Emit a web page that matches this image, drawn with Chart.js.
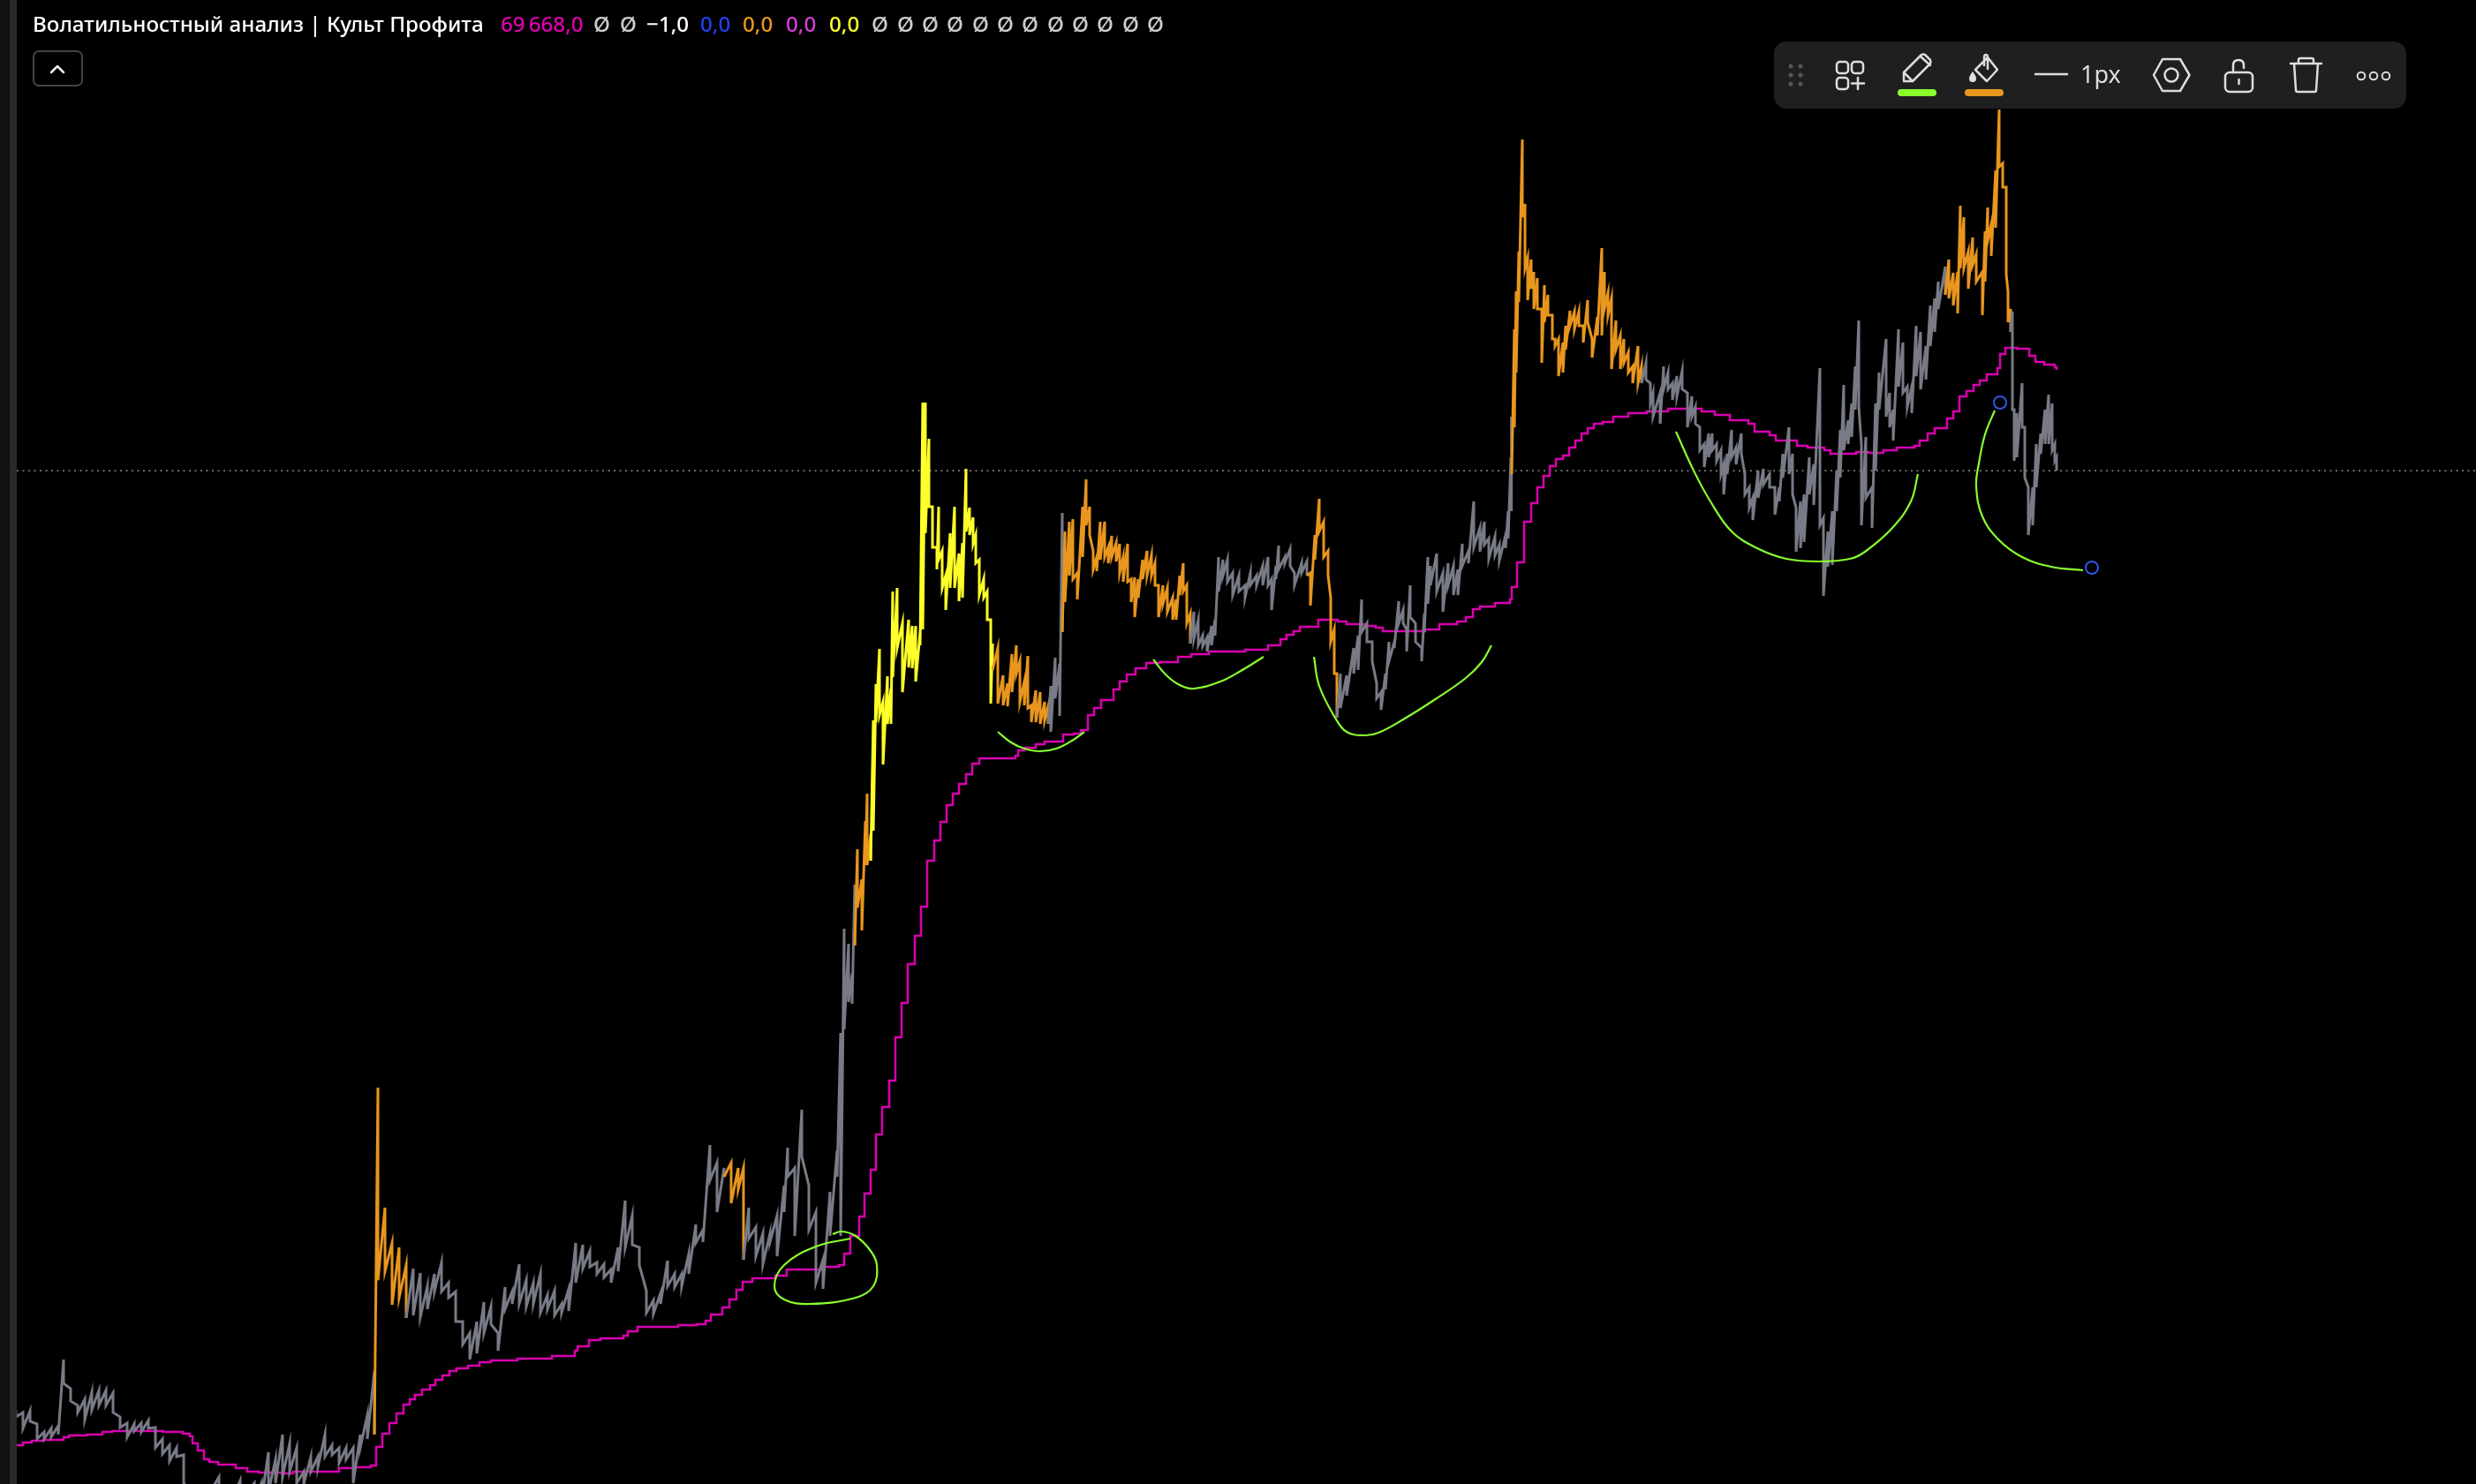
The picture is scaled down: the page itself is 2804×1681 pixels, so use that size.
<!DOCTYPE html>
<html lang="ru">
<head>
<meta charset="utf-8">
<title>Волатильностный анализ | Культ Профита</title>
<script src="https://cdn.jsdelivr.net/npm/chart.js@4"></script>
<style>
  html, body { margin: 0; padding: 0; background: #000; overflow: hidden; }
  #page { position: relative; width: 2804px; height: 1681px; background: #000; overflow: hidden; }
  #chart { position: absolute; left: 0; top: 0; }
  .strip { position: absolute; top: 0; bottom: 0; }
  #legend span {
    position: absolute; top: 11px; white-space: nowrap; color: #fff;
    font: 500 24.2px/32px "Noto Sans", sans-serif;
  }
  #collapse {
    position: absolute; left: 37px; top: 57px; width: 57px; height: 41px; box-sizing: border-box;
    border: 2px solid #444; border-radius: 7px;
  }
  #tools { position: absolute; left: 0; top: 0; }
</style>
</head>
<body>
<div id="page">
  <canvas id="chart" width="2804" height="1681"></canvas>
  <div class="strip" style="left:0;width:11px;background:#111"></div>
  <div class="strip" style="left:11px;width:8px;background:#292929"></div>
  <div id="legend"></div>
  <div id="collapse"></div>
  <svg id="tools" width="2804" height="1681" fill="none" stroke="#ddd" stroke-width="2.5" stroke-linecap="round" stroke-linejoin="round">
    <path d="M58 82l7-7 7 7" stroke="#eee"/>
    <rect x="2009" y="47" width="716" height="76" rx="14" fill="#1f1f1f" stroke="none"/>
    <g fill="#555" stroke="none">
      <circle cx="2028" cy="75" r="2.5"/><circle cx="2039" cy="75" r="2.5"/>
      <circle cx="2028" cy="85" r="2.5"/><circle cx="2039" cy="85" r="2.5"/>
      <circle cx="2028" cy="95" r="2.5"/><circle cx="2039" cy="95" r="2.5"/>
    </g>
    <!-- add widgets -->
    <rect x="2080" y="70" width="13" height="13" rx="3.5"/>
    <rect x="2097" y="70" width="13" height="13" rx="3.5"/>
    <rect x="2080" y="88" width="13" height="13" rx="3.5"/>
    <path d="M2097 94.5h14M2104 88v13"/>
    <!-- pencil -->
    <path d="M2156 82l20-20q2-1 4 0l6 6q1 2 0 4l-20 20h-10zM2156 82l10 10M2175 64l11 10"/>
    <rect x="2149" y="101" width="44" height="8" rx="4" fill="#8aff2e" stroke="none"/>
    <!-- bucket -->
    <path d="M2240 76l11-11 11 14-12 13-13-13zM2247 74v-9q0-3 2-3t2 3v13"/>
    <path d="M2234 81q-4 5-4 8a4 4 0 0 0 8 0q0-3-4-8z" fill="#ddd" stroke="none"/>
    <rect x="2225" y="101" width="44" height="8" rx="4" fill="#e8961e" stroke="none"/>
    <!-- line width -->
    <path d="M2305 84h36"/>
    <text x="2356" y="94" fill="#ddd" stroke="none" font-family="Noto Sans" font-size="27">1px</text>
    <!-- hexagon -->
    <path d="M2449 67h20l10.500 18-10.500 18h-20l-10-18z"/>
    <circle cx="2459" cy="85" r="7.500"/>
    <!-- lock -->
    <rect x="2520" y="82" width="31" height="22" rx="5"/>
    <path d="M2529 82v-8q0-6 6-6t6 6v3M2535.500 90v5"/>
    <!-- trash -->
    <path d="M2594 72h35M2603 72v-4q0-2 2-2h13q2 0 2 2v4M2598 72l2 30q0 2 2 2h19q2 0 2-2l2-30"/>
    <circle cx="2674" cy="86" r="4.300" stroke-width="2"/>
    <circle cx="2688" cy="86" r="4.300" stroke-width="2"/>
    <circle cx="2702" cy="86" r="4.300" stroke-width="2"/>
  </svg>
</div>
<script>
// Indicator title and the values printed after it
const indicatorName = 'Волатильностный анализ | Культ Профита';
const legendValues = ['69\u2009668,0', 'Ø', 'Ø', '−1,0', '0,0', '0,0', '0,0', '0,0',
  'Ø', 'Ø', 'Ø', 'Ø', 'Ø', 'Ø', 'Ø', 'Ø', 'Ø', 'Ø', 'Ø', 'Ø'];
const legendColours = ['#e000b0', '#ccc', '#ccc', '#fff', '#1f3ff0', '#e8961e', '#d63fd6', '#ffff29',
  '#ccc', '#ccc', '#ccc', '#ccc', '#ccc', '#ccc', '#ccc', '#ccc', '#ccc', '#ccc', '#ccc', '#ccc'];
const legendLefts = [567, 672, 702, 732, 793, 841, 890, 939,
  987, 1016, 1044, 1072, 1101, 1129, 1157, 1186, 1214, 1242, 1271, 1299];

const lastPrice = 69668;

// Price columns, each row: bar, high, low
const calm1 = [
  [18,59030,58950],[26,59000,58820],[34,59020,58900],[42,58870,58700],[50,58780,58700],[58,58820,58720],
  [66,58850,58750],[72,59600,59330],[80,59270,59130],[88,59080,59000],[96,59150,58920],[104,59230,59030],
  [112,59250,59080],[120,59250,59080],[128,59220,59000],[136,58950,58830],[144,58880,58720],[152,58870,58790],
  [160,58880,58780],[168,58910,58820],[176,58830,58600],[184,58700,58530],[192,58630,58450],[200,58600,58500],
  [208,58520,58200],[216,58100,58000],[232,58050,58000],[248,58270,58000],[262,58050,58000],[272,58230,58000],
  [288,58200,58000],[296,58200,58000],[304,58550,58100],[312,58470,58200],[320,58750,58270],[328,58650,58330],
  [336,58600,58200],[344,58330,58190],[352,58500,58330],[360,58500,58380],[368,58750,58500],[376,58630,58520],
  [384,58600,58430],[392,58600,58470],[400,58600,58200],[408,58750,58600],[416,58970,58700],[424,59470,58750]
];
const active1 = [
  [428,62680,60500],[436,61320,60600],[444,60920,60220],[452,60870,60300],[460,60670,60070]
];
const calm2 = [
  [468,60630,60100],[476,60580,60080],[484,60430,60170],[492,60570,60370],[500,60700,60370],[508,60470,60300],
  [516,60370,60030],[524,60030,59770],[532,59900,59600],[540,60030,59670],[548,60250,59900],[556,60200,60000],
  [564,59900,59700],[572,60420,60170],[580,60370,60230],[588,60680,60230],[596,60500,60200],[604,60470,60230],
  [612,60570,60130],[620,60330,60170],[628,60380,60100],[636,60230,60130],[644,60400,60150],[652,60920,60470],
  [660,60900,60630],[668,60830,60650],[676,60700,60570],[684,60680,60530],[692,60620,60470],[700,60870,60600],
  [708,61400,60870],[716,61230,60900],[724,60870,60670],[732,60380,60130],[740,60270,60120],[748,60350,60230],
  [756,60720,60430],[764,60570,60420],[772,60570,60430],[780,60800,60570],[788,61130,60920],[796,61070,60930],
  [804,62030,61630],[812,61830,61270],[820,61770,61670]
];
const active2 = [
  [828,61830,61370],[836,61770,61530],[842,61770,60730]
];
const calm3 = [
  [848,61320,60970],[856,61100,60770],[864,61030,60680],[872,61030,60930],[880,61230,60770],[888,61570,61270],
  [892,62000,61670],[900,61770,61000],[908,62430,61900],[916,61570,61070],[924,61270,60470],[932,60730,60400],
  [940,61500,61000],[948,61970,61670],[952,63300,61000],[956,64480,63340],[961,64310,63650],[965,63970,63630],
  [968,64980,64290]
];
const active3 = [
  [971,65380,64720],[976,65040,64460],[980,65700,65200],[982,66010,65200],[986,65550,65250]
];
const hot1 = [
  [989,66840,65590],[992,67250,66820],[996,67650,66900],[1000,67050,66340],[1005,67340,66800],[1009,67200,66800],
  [1011,68300,67330],[1016,68340,67660],[1022,67940,67160],[1029,67980,67440],[1033,67910,67430],[1037,67910,67280],
  [1042,67840,67690],[1045,70440,67870],[1048,70440,68960],[1052,70030,69260],[1056,69260,68800],[1061,68800,68550],
  [1063,69260,68660],[1067,68760,68340],[1071,68480,68090],[1076,68960,68340],[1081,69260,68340],[1086,68730,68190],
  [1090,68850,68230],[1094,69690,68980],[1098,69250,68940],[1102,69140,68840],[1105,68940,68620],[1109,68660,68260],
  [1114,68440,68230],[1118,68300,67980],[1122,67980,67030],[1124,67710,67410]
];
const active4 = [
  [1130,67660,67030],[1136,67350,67010],[1141,67260,67000],[1146,67590,67160],[1151,67690,67370],[1155,67510,67050],
  [1160,67280,67010],[1164,67570,66980],[1168,67010,66820],[1173,67180,66820],[1178,67160,66800],[1183,67050,66840],
  [1187,67000,66800]
];
const calm4 = [
  [1190,67230,66710],[1195,67550,67090],[1200,67480,66890],[1203,69190,67840]
];
const active5 = [
  [1206,68980,68180],[1211,69090,68480],[1215,69120,68440],[1220,68510,68210],[1226,69260,68690],[1230,69570,69050],
  [1234,69260,68940],[1238,68760,68550],[1242,68690,68530],[1246,69090,68660],[1251,69090,68690],[1255,68800,68620],
  [1259,68930,68690],[1264,68850,68640],[1268,68840,68510],[1272,68690,68410],[1277,68840,68410],[1281,68440,68180],
  [1285,68460,68010],[1289,68440,68230],[1294,68660,68440],[1299,68760,68480],[1304,68710,68480],[1308,68620,68370],
  [1312,68370,68010],[1317,68370,68160],[1322,68340,68070],[1328,68230,67980],[1332,68210,67980],[1336,68480,68260],
  [1340,68620,68300],[1344,68370,67940],[1348,68050,67710]
];
const calm5 = [
  [1352,68070,67760],[1357,67980,67690],[1362,67800,67680],[1367,67780,67620],[1372,67910,67690],[1376,67980,67800],
  [1380,68690,68300],[1385,68660,68480],[1390,68660,68410],[1396,68510,68260],[1403,68480,68300],[1410,68370,68230],
  [1416,68510,68370],[1423,68480,68370],[1430,68590,68370],[1436,68690,68370],[1440,68440,68090],[1445,68590,68440],
  [1448,68820,68550],[1455,68690,68620],[1461,68780,68590],[1466,68510,68370],[1474,68620,68510],[1480,68640,68480]
];
const active6 = [
  [1484,68510,68140],[1489,68940,68660],[1494,69350,68980],[1499,69090,68690],[1504,68760,68480],[1507,68230,67730],
  [1511,67870,67370],[1514,67370,66870]
];
const calm6 = [
  [1518,67370,66980],[1525,67350,67120],[1533,67660,67370],[1538,67800,67410],[1542,68210,67840],[1548,67940,67730],
  [1554,67730,67510],[1559,67260,67090],[1564,67160,66960],[1569,67370,67190],[1573,67730,67510],[1579,67730,67660],
  [1584,68190,67940],[1589,68090,67940],[1593,67870,67620],[1597,68370,68010],[1603,67940,67730],[1610,67660,67510],
  [1613,68050,67840],[1617,68690,68160],[1620,68590,68370],[1627,68730,68300],[1634,68510,68070],[1640,68620,68370],
  [1646,68590,68260],[1651,68550,68260],[1656,68840,68590],[1663,68760,68620],[1669,69320,68800],[1676,69020,68750],
  [1681,69090,68830],[1686,68900,68670],[1693,68920,68710],[1698,68830,68650],[1705,68940,68790],[1708,69210,68900],
  [1711,69820,69210],[1712,70280,69630]
];
const active7 = [
  [1715,71270,70160],[1717,71700,70780],[1720,72150,71580],[1724,73420,72540],[1727,72690,71960],[1730,72080,71600],
  [1734,72060,71730],[1737,71920,71500],[1741,71850,71500],[1746,71500,70890],[1749,71770,71350],[1753,71660,71430],
  [1758,71430,71160],[1761,71160,71080],[1765,71160,70740],[1770,71120,70780],[1773,71310,71040],[1778,71480,71310],
  [1783,71470,71270],[1788,71470,71310],[1793,71310,71120],[1798,71600,71350],[1803,71160,70950],[1809,71410,71200],
  [1814,72190,71200],[1817,71920,71500],[1821,71680,71430],[1825,71620,70820],[1830,71370,71040],[1835,71200,70820],
  [1839,71160,70890],[1844,71010,70780],[1849,70850,70660],[1855,71080,70660],[1859,70850,70660]
];
const calm7 = [
  [1864,70890,70700],[1869,70660,70430],[1872,70550,70280],[1880,70550,70200],[1884,70850,70590],[1889,70780,70590],
  [1894,70660,70470],[1899,70740,70510],[1905,70800,70590],[1911,70550,70160],[1916,70510,70280],[1920,70390,70200],
  [1925,70160,69900],[1930,69970,69710],[1935,70090,69820],[1939,70090,69900],[1944,69970,69780],[1949,69900,69630],
  [1952,69740,69400],[1956,69860,69630],[1961,70130,69820],[1966,69930,69740],[1972,70090,69860],[1976,69630,69400],
  [1981,69480,69250],[1985,69360,69110],[1991,69670,69360],[1997,69690,69510],[2004,69630,69480],[2010,69480,69170],
  [2015,69480,69320],[2019,69860,69590],[2026,70160,69630],[2030,69860,69400],[2034,69250,68750],[2039,69320,68790],
  [2043,69400,68860],[2049,69820,69400],[2054,69740,69280],[2061,70830,69050],[2065,69130,68250],[2070,68980,68580],
  [2075,69210,68600],[2080,69670,69210],[2084,70130,69590],[2088,70640,69900],[2093,70240,69970],[2097,70430,70050],
  [2101,70850,70360],[2105,71370,70390],[2108,69970,69050],[2113,70050,69360],[2120,69480,69020],[2124,70430,69670],
  [2128,70780,70360],[2136,71160,70280],[2140,70550,70160],[2144,70360,70010],[2150,71270,70620],[2155,71120,70550],
  [2160,70620,70390],[2165,70620,70320],[2170,71310,70740],[2175,71240,70590],[2181,71080,70700],[2186,71540,71080],
  [2191,71620,71240],[2195,71810,71500],[2203,71980,71660]
];
const active8 = [
  [2207,72060,71620],[2212,71910,71540],[2217,71920,71450],[2220,72670,71960],[2224,72540,71960],[2229,72150,71730],
  [2234,72310,72000],[2238,72120,71810],[2245,71920,71430],[2248,72380,71810],[2251,72650,72270],[2255,72460,72100],
  [2260,73070,72420],[2264,73760,73110],[2268,73150,72880],[2272,72880,71890],[2274,71700,71350],[2277,71500,71240]
];
const calm8 = [
  [2279,71470,70360],[2281,70360,69780],[2284,70320,69820],[2290,70660,70160],[2293,70160,69590],[2297,69480,68940],
  [2302,69480,69050],[2306,69970,69480],[2311,70090,69860],[2316,70360,69970],[2320,70530,69970],[2324,70430,69900],
  [2327,69970,69780],[2329,69820,69670]
];

// Stepped basis line: bar where the level changes, and the new level
const basisBars = [
  19,26,36,49,72,78,98,116,127,172,185,207,215,218,224,231,237,247,267,280,293,319,332,358,384,403,420,426,433,441,
  449,457,464,470,478,487,493,501,509,517,530,543,556,586,625,651,654,667,680,706,711,722,768,789,799,805,818,826,834,841,
  852,878,891,930,950,956,963,973,979,986,992,999,1007,1014,1021,1028,1036,1043,1050,1058,1065,1072,1079,1086,1094,1101,1109,1150,1153,1160,
  1173,1183,1204,1216,1224,1232,1239,1247,1261,1268,1276,1286,1298,1313,1334,1349,1369,1410,1436,1450,1457,1465,1472,1493,1515,1525,1545,1558,1566,1614,
  1630,1650,1660,1668,1676,1693,1710,1712,1718,1726,1734,1741,1748,1755,1762,1770,1777,1784,1791,1798,1805,1815,1827,1844,1865,1889,1927,1942,1959,1980,
  1987,2004,2011,2035,2047,2066,2073,2102,2116,2133,2148,2168,2174,2183,2191,2205,2212,2219,2227,2235,2242,2250,2262,2265,2271,2284,2298,2305,2315,2327,2329
];
const basisValues = [
  58630,58660,58680,58690,58720,58740,58750,58780,58790,58790,58780,58760,58730,58650,58570,58470,58440,58410,58370,58330,58320,58310,58330,58330,58370,58380,58400,58610,58760,58880,
  58990,59090,59150,59200,59260,59310,59370,59420,59470,59500,59530,59570,59590,59610,59640,59700,59750,59820,59840,59870,59920,59970,59990,60000,60040,60110,60190,60280,60390,60480,
  60520,60550,60620,60650,60670,60800,61000,61220,61480,61750,62150,62460,62760,63250,63640,64080,64400,64730,65250,65480,65690,65880,66010,66120,66230,66350,66410,66440,66500,66530,
  66570,66600,66680,66690,66730,66900,66980,67070,67190,67280,67360,67430,67490,67500,67560,67590,67620,67640,67690,67760,67810,67850,67900,67980,67960,67930,67910,67890,67850,67870,
  67930,67960,68010,68100,68130,68170,68210,68350,68630,69090,69300,69480,69610,69720,69800,69840,69930,70010,70090,70150,70200,70220,70280,70320,70340,70370,70340,70300,70240,70200,
  70110,70070,70010,69950,69930,69900,69860,69880,69870,69900,69930,69950,70010,70090,70150,70260,70340,70510,70570,70640,70690,70760,70830,70990,71060,71050,70970,70900,70870,70840,70810
];

// Hand drawn marks on the chart, each row: bar, price
const drawnLoop = [[943,61020],[953,61050],[969,61000],[986,60830],[993,60670],[989,60430],[969,60300],[917,60230],[888,60280],[877,60430],[888,60670],[924,60880],[963,60970]];
const drawnArc1 = [[1130,66710],[1145,66590],[1160,66520],[1178,66490],[1196,66520],[1214,66610],[1228,66710]];
const drawnArc2 = [[1306,67530],[1321,67350],[1336,67240],[1352,67200],[1382,67280],[1405,67400],[1431,67560]];
const drawnArc3 = [[1488,67560],[1494,67230],[1512,66870],[1525,66710],[1545,66670],[1561,66700],[1589,66850],[1624,67070],[1660,67320],[1678,67500],[1689,67690]];
const drawnArc4 = [[1898,70110],[1918,69670],[1937,69320],[1961,68980],[1990,68790],[2023,68670],[2061,68640],[2095,68670],[2112,68750],[2143,69020],[2164,69320],[2172,69630]];
const drawnArc5 = [[2259,70350],[2248,70080],[2241,69750],[2238,69490],[2245,69150],[2263,68890],[2290,68690],[2323,68580],[2359,68540]];
const drawnHandles = [[2265,70440],[2369,68570]];

const levelColours = { calm: '#787b86', active: '#e8961e', hot: '#ffff29' };
const priceRuns = [
  ['calm', calm1], ['active', active1], ['calm', calm2], ['active', active2], ['calm', calm3], ['active', active3],
  ['hot', hot1], ['active', active4], ['calm', calm4], ['active', active5], ['calm', calm5], ['active', active6],
  ['calm', calm6], ['active', active7], ['calm', calm7], ['active', active8], ['calm', calm8]
];

// Each column becomes a vertical high-low stroke in one continuous line
const pricePoints = [];
const pointLevels = [];
priceRuns.forEach(([level, rows]) => {
  rows.forEach(([bar, high, low]) => {
    pricePoints.push({ x: bar, y: high }, { x: bar, y: low });
    pointLevels.push(level, level);
  });
});

const toPoints = (rows) => rows.map(([x, y]) => ({ x, y }));

function drawnDataset(rows) {
  return {
    data: toPoints(rows),
    borderColor: '#8aff2e',
    borderWidth: 2.2,
    tension: 0.4,
    pointRadius: 0
  };
}

// Legend text as real DOM text
const legend = document.getElementById('legend');
function addLegendText(text, colour, left) {
  const span = document.createElement('span');
  span.textContent = text;
  span.style.color = colour;
  span.style.left = left + 'px';
  legend.appendChild(span);
}
addLegendText(indicatorName, '#fff', 37);
legendValues.forEach((text, i) => addLegendText(text, legendColours[i], legendLefts[i]));

new Chart(document.getElementById('chart'), {
  type: 'line',
  data: {
    datasets: [
      {
        data: toPoints(drawnHandles),
        showLine: false,
        pointRadius: 7,
        pointBorderWidth: 2,
        pointBorderColor: '#2f55e0',
        pointBackgroundColor: 'rgba(0,0,0,0)'
      },
      drawnDataset(drawnLoop),
      drawnDataset(drawnArc1),
      drawnDataset(drawnArc2),
      drawnDataset(drawnArc3),
      drawnDataset(drawnArc4),
      drawnDataset(drawnArc5),
      {
        data: pricePoints,
        borderWidth: 3,
        borderColor: levelColours.calm,
        pointRadius: 0,
        tension: 0,
        segment: {
          borderColor: (ctx) => levelColours[pointLevels[ctx.p1DataIndex]]
        }
      },
      {
        data: basisBars.map((bar, i) => ({ x: bar, y: basisValues[i] })),
        borderColor: '#d900b0',
        borderWidth: 2.5,
        pointRadius: 0,
        stepped: 'before'
      },
      {
        // last price line
        data: [{ x: 19, y: lastPrice }, { x: 2804, y: lastPrice }],
        borderColor: '#8a8a8a',
        borderWidth: 1.5,
        borderDash: [2, 4.5],
        pointRadius: 0
      }
    ]
  },
  options: {
    responsive: false,
    animation: false,
    devicePixelRatio: 1,
    layout: { padding: 0, autoPadding: false },
    plugins: { legend: { display: false }, tooltip: { enabled: false } },
    scales: {
      x: { type: 'linear', min: 0, max: 2804, display: false },
      y: { type: 'linear', min: 58190, max: 75000, display: false }
    }
  }
});
</script>
</body>
</html>
